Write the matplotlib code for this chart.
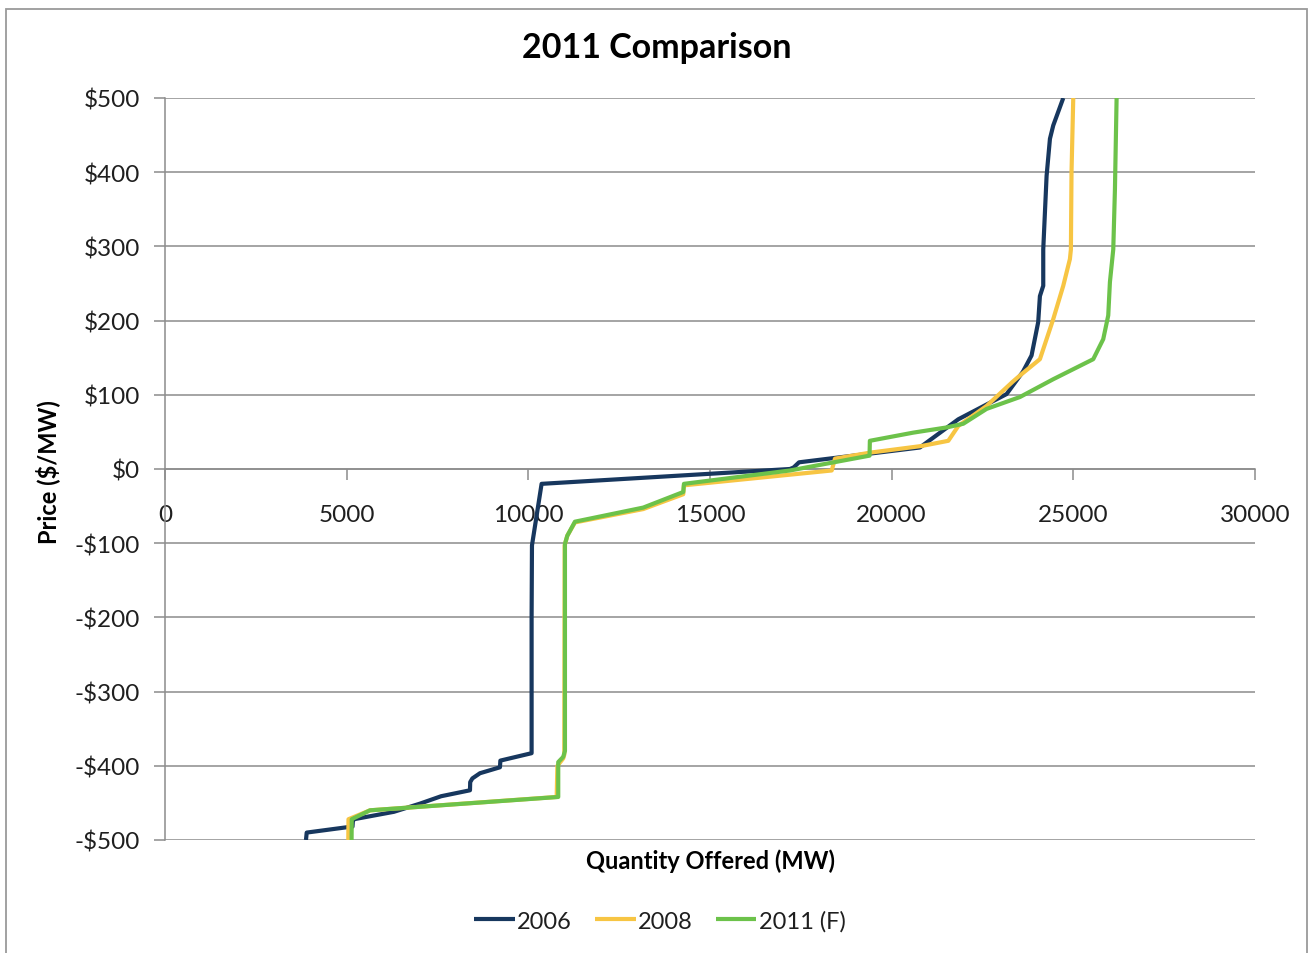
import matplotlib
matplotlib.use("Agg")
import matplotlib.pyplot as plt
from matplotlib.patches import Rectangle
from matplotlib.ticker import FuncFormatter, MultipleLocator

plt.rcParams['font.family'] = ['Lato', 'DejaVu Sans']

# Offer curves: quantity offered (MW) versus price ($/MW)
q_2006 = [3880, 3900, 5130, 5160, 5170, 5200, 6300, 7018, 7600, 8394, 8400, 8460,
          8669, 9219, 9230, 10090, 10090, 10100, 10365, 17200, 17300, 17450,
          20777, 21834, 23163, 23611, 23850, 24033, 24080, 24172, 24172, 24264,
          24356, 24447, 24723]
p_2006 = [-500, -490, -482, -482, -475, -472, -462, -451, -441, -433, -422, -417,
          -410, -402, -393, -383, -200, -103, -20, 0, 2, 9,
          29, 67, 101, 131, 153, 198, 233, 247, 296, 395,
          445, 463, 500]

q_2008 = [5045, 5050, 5642, 10780, 10790, 10800, 10960, 10990, 11000, 11072, 11283,
          13163, 14264, 14283, 18350, 18440, 19400, 20823, 21559, 21834,
          22613, 23340, 23530, 24080, 24447, 24723, 24906, 24933, 24950, 24998]
p_2008 = [-500, -472, -460, -442, -420, -400, -390, -385, -103, -90, -72,
          -54, -34, -22, -2, 14, 22, 31, 38, 58,
          85, 118, 126, 148, 202, 247, 283, 296, 400, 500]

q_2011 = [5135, 5140, 5642, 10823, 10823, 10960, 11008, 11008, 11072, 11283,
          13163, 14264, 14283, 17200, 19391, 19400, 20593, 21512, 21971,
          22613, 23530, 24447, 25548, 25823, 25961, 26007, 26099, 26145, 26191]
p_2011 = [-500, -472, -460, -442, -395, -388, -380, -101, -90, -71,
          -52, -31, -20, -2, 18, 38, 49, 56, 61,
          81, 97, 121, 148, 175, 207, 252, 296, 377, 500]

series = [
    ("2006", q_2006, p_2006, "#17375E"),
    ("2008", q_2008, p_2008, "#F7C543"),
    ("2011 (F)", q_2011, p_2011, "#6CC24A"),
]

x_ticks = [0, 5000, 10000, 15000, 20000, 25000, 30000]

W, H = 1308, 954
fig = plt.figure(figsize=(W / 100, H / 100), dpi=100)
fig.patch.set_facecolor("white")

left, right, top, bottom = 165, 1255, 99, 841
ax = fig.add_axes([left / W, 1 - bottom / H, (right - left) / W, (bottom - top) / H])

for name, q, p, c in series:
    ax.plot(q, p, color=c, lw=3.0, label=name, solid_joinstyle="round",
            solid_capstyle="butt", zorder=3)

ax.set_xlim(0, 30000)
ax.set_ylim(-500, 500)
ax.set_xticks(x_ticks)
ax.yaxis.set_major_locator(MultipleLocator(100))

def money(v, _):
    v = int(round(v))
    return f"-${-v}" if v < 0 else f"${v}"

ax.yaxis.set_major_formatter(FuncFormatter(money))

grid_c = "#8C8C8C"
ax.grid(axis="y", color=grid_c, lw=1.1, zorder=1)
ax.set_axisbelow(True)

for s in ("top", "right"):
    ax.spines[s].set_visible(False)
ax.spines["left"].set_color(grid_c)
ax.spines["left"].set_linewidth(1.1)
ax.spines["bottom"].set_position(("data", 0))
ax.spines["bottom"].set_color(grid_c)
ax.spines["bottom"].set_linewidth(1.1)

label_c = "#1F1F1F"
ax.tick_params(axis="y", length=8, width=1.1, color=grid_c, labelsize=17.5,
               labelcolor=label_c, pad=10)
ax.tick_params(axis="x", length=8, width=1.1, color=grid_c, labelsize=17.5,
               labelcolor=label_c, pad=17)

fig.text(657 / W, 1 - 48 / H, "2011 Comparison", fontsize=24.5, fontweight="bold",
         ha="center", va="center", color="#000000")
fig.text(48 / W, 1 - 472 / H, "Price ($/MW)", fontsize=17, fontweight="bold",
         ha="center", va="center", rotation=90, color="#000000")
fig.text(710 / W, 1 - 861 / H, "Quantity Offered (MW)",
         fontsize=17, fontweight="bold", ha="center", va="center", color="#000000")

handles, labels = ax.get_legend_handles_labels()
fig.legend(handles, labels, loc="center", bbox_to_anchor=(660 / W, 1 - 922 / H),
           ncol=3, frameon=False, fontsize=17, handlelength=1.7,
           handletextpad=0.1, columnspacing=1.0, labelcolor=label_c)

# Chart frame
fig.patches.append(Rectangle((6 / W, -0.01), (1307 - 6) / W, 1 - 10 / H + 0.01,
                             transform=fig.transFigure, fill=False,
                             edgecolor="#9A9A9A", lw=1.3))

fig.savefig("out.png", dpi=100, facecolor="white")
